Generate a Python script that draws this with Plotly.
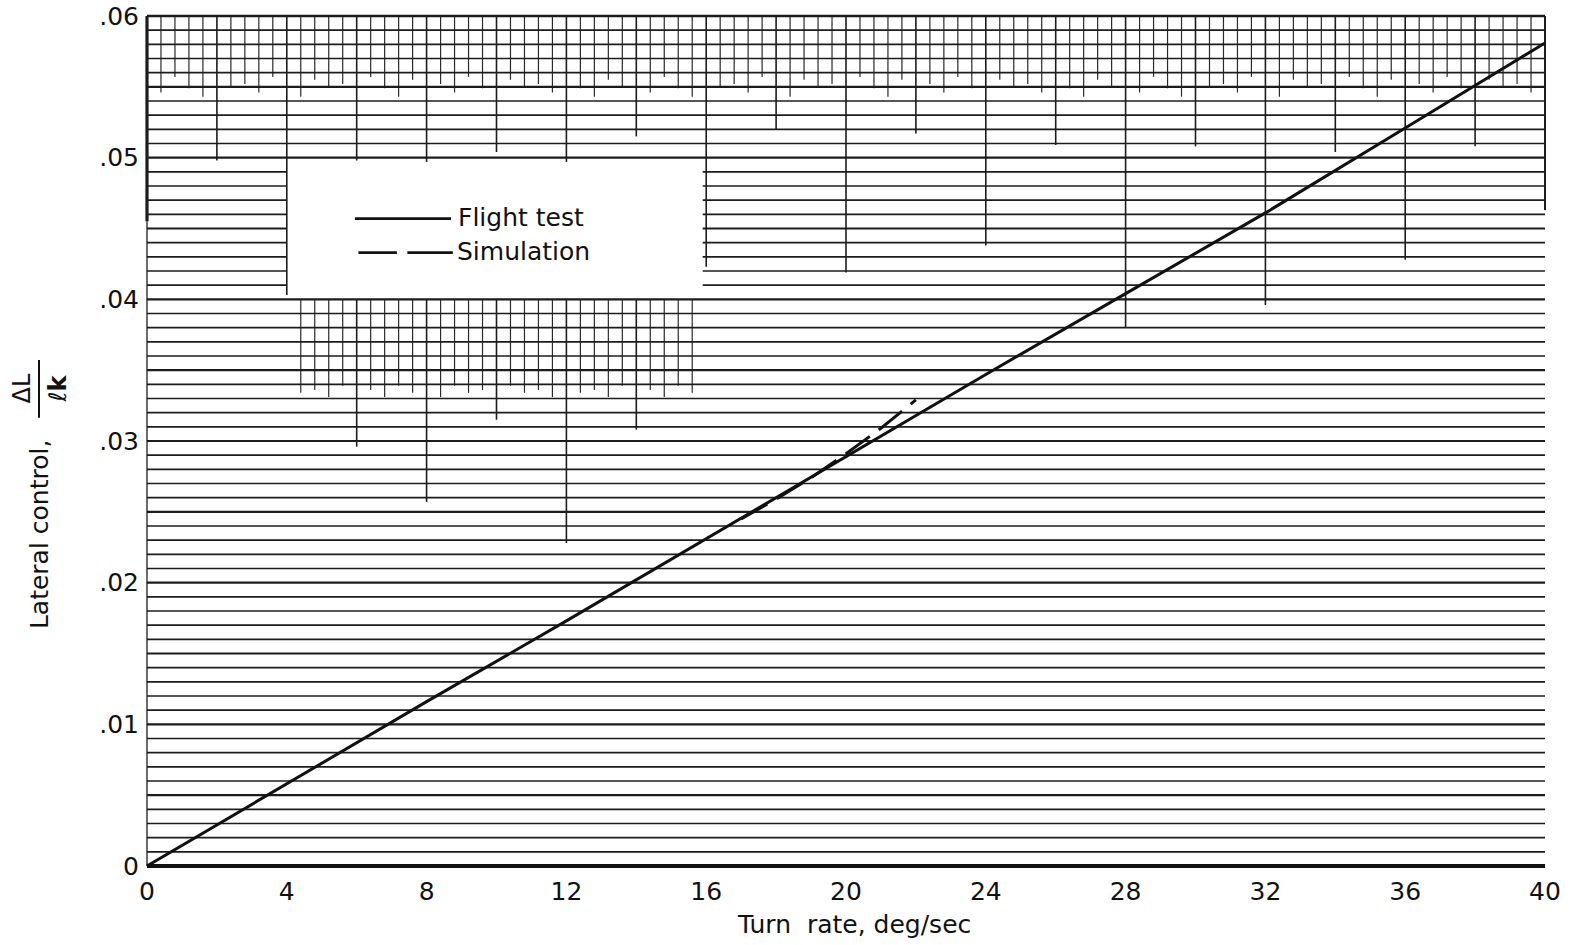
import plotly.graph_objects as go

# ---- data -------------------------------------------------------------
turn_rate_flight = [0, 4, 8, 12, 16, 20, 24, 28, 32, 36, 40]
lateral_flight = [0, 0.0058, 0.0116, 0.0173, 0.0231, 0.0289, 0.0347, 0.0404, 0.0461, 0.0521, 0.0581]

turn_rate_sim = [17, 18, 19, 20, 21, 22]
lateral_sim = [0.0245, 0.0259, 0.0274, 0.0291, 0.0309, 0.0329]

x_tick_vals = [0, 4, 8, 12, 16, 20, 24, 28, 32, 36, 40]
x_tick_text = ["0", "4", "8", "12", "16", "20", "24", "28", "32", "36", "40"]
y_tick_vals = [0, 0.01, 0.02, 0.03, 0.04, 0.05, 0.06]
y_tick_text = ["0", ".01", ".02", ".03", ".04", ".05", ".06"]

FONT = "DejaVu Sans"
INK = "#111111"
GRID = "#1c1c1c"


def segments(segs, width, color=GRID):
    xs, ys = [], []
    for xa, ya, xb, yb in segs:
        xs += [xa, xb, None]
        ys += [ya, yb, None]
    return go.Scatter(x=xs, y=ys, mode="lines", line=dict(color=color, width=width),
                      hoverinfo="skip", showlegend=False)


# ---- graph-paper background ------------------------------------------
h_minor, h_major = [], []
for k in range(1, 60):
    y = k / 1000
    if 41 <= k <= 49:          # blank panel holding the key
        segs = [(0, y, 4, y), (15.9, y, 40, y)]
    else:
        segs = [(0, y, 40, y)]
    (h_major if k % 5 == 0 else h_minor).extend(segs)

# fine verticals along the top band, ragged lower ends
ragged = [0.0552, 0.0546, 0.0557, 0.0549, 0.0543, 0.0555, 0.0550]
v_minor = []
for i in range(1, 100):
    if i % 5 == 0:
        continue
    v_minor.append((0.4 * i, 0.06, 0.4 * i, ragged[i % len(ragged)]))

# every-2-deg verticals and how far down they reach
v_major_ends = {2: 0.0498, 4: 0.0403, 6: 0.0498, 8: 0.0497, 10: 0.0504, 12: 0.0497,
                14: 0.0515, 16: 0.0423, 18: 0.0520, 20: 0.0419, 22: 0.0517, 24: 0.0438,
                26: 0.0509, 28: 0.0380, 30: 0.0508, 32: 0.0396, 34: 0.0504, 36: 0.0428,
                38: 0.0508}
v_major = [(x, 0.06, x, yb) for x, yb in v_major_ends.items()]

# patch of verticals under the key
under_key = [0.0336, 0.0331, 0.0339, 0.0334]
for i in range(11, 40):
    if i % 5 == 0:
        continue
    v_minor.append((0.4 * i, 0.040, 0.4 * i, under_key[i % len(under_key)]))
under_key_major = {6: 0.0296, 8: 0.0257, 10: 0.0315, 12: 0.0228, 14: 0.0308}
v_major += [(x, 0.040, x, yb) for x, yb in under_key_major.items()]

frame = [(0, 0.06, 40, 0.06)]
left_edge_thin = [(0, 0.0455, 0, 0.0)]
left_edge_thick = [(0, 0.06, 0, 0.0455)]
right_edge = [(40, 0.06, 40, 0.0463)]
x_axis = [(0, 0, 40, 0)]

fig = go.Figure()
fig.add_trace(segments(v_minor, 1.2, "#2a2a2a"))
fig.add_trace(segments(v_major, 1.6))
fig.add_trace(segments(h_minor, 1.6))
fig.add_trace(segments(h_major, 2.2))
fig.add_trace(segments(frame, 2.6))
fig.add_trace(segments(left_edge_thin, 1.3))
fig.add_trace(segments(left_edge_thick, 3.2))
fig.add_trace(segments(right_edge, 2.0))
fig.add_trace(segments(x_axis, 4.0, INK))

# ---- curves -----------------------------------------------------------
fig.add_trace(go.Scatter(x=turn_rate_flight, y=lateral_flight, mode="lines", name="Flight test",
                         line=dict(color=INK, width=3), showlegend=False))
fig.add_trace(go.Scatter(x=turn_rate_sim, y=lateral_sim, mode="lines", name="Simulation",
                         line=dict(color=INK, width=3, dash="30px,11px"), showlegend=False))

# ---- key --------------------------------------------------------------
shapes = [
    dict(type="line", xref="x", yref="y", x0=5.95, x1=8.7, y0=0.0457, y1=0.0457,
         line=dict(color=INK, width=2.6)),
    dict(type="line", xref="x", yref="y", x0=6.05, x1=7.15, y0=0.0433, y1=0.0433,
         line=dict(color=INK, width=2.6)),
    dict(type="line", xref="x", yref="y", x0=7.45, x1=8.75, y0=0.0433, y1=0.0433,
         line=dict(color=INK, width=2.6)),
    # fraction bar of the y-axis label
    dict(type="line", xref="paper", yref="paper", xsizemode="pixel", xanchor=0,
         x0=-101, x1=-101, y0=0.527, y1=0.594, line=dict(color=INK, width=2)),
]

annotations = [
    dict(text="Flight test", x=8.85, y=0.0458, xref="x", yref="y", xanchor="left",
         yanchor="middle", showarrow=False, font=dict(family=FONT, size=25, color=INK)),
    dict(text="Simulation", x=8.8, y=0.0434, xref="x", yref="y", xanchor="left",
         yanchor="middle", showarrow=False, font=dict(family=FONT, size=25, color=INK)),
    dict(text="Turn  rate, deg/sec", x=0.506, y=0, xref="paper", yref="paper",
         xanchor="center", yanchor="middle", yshift=-52, showarrow=False,
         font=dict(family=FONT, size=25, color=INK)),
    dict(text="Lateral control,", x=0, y=0.392, xref="paper", yref="paper",
         xanchor="center", yanchor="middle", xshift=-101, textangle=-90, showarrow=False,
         font=dict(family=FONT, size=25, color=INK)),
    dict(text="ΔL", x=0, y=0.561, xref="paper", yref="paper",
         xanchor="center", yanchor="middle", xshift=-118, textangle=-90, showarrow=False,
         font=dict(family=FONT, size=24, color=INK)),
    dict(text="ℓ<b>k</b>", x=0, y=0.561, xref="paper", yref="paper",
         xanchor="center", yanchor="middle", xshift=-82, textangle=-90, showarrow=False,
         font=dict(family=FONT, size=24, color=INK)),
]

fig.update_layout(
    width=1585, height=945,
    margin=dict(l=140, r=33, t=10, b=73, autoexpand=False),
    paper_bgcolor="white", plot_bgcolor="white",
    shapes=shapes, annotations=annotations,
    showlegend=False,
)
fig.update_xaxes(range=[-0.2, 40.2], showgrid=False, zeroline=False, showline=False,
                 tickvals=x_tick_vals, ticktext=x_tick_text, ticks="",
                 tickfont=dict(family=FONT, size=25, color=INK), ticklabelstandoff=2,
                 ticklabeloverflow="allow", automargin=False)
fig.update_yaxes(range=[-0.000424, 0.060424], showgrid=False, zeroline=False, showline=False,
                 tickvals=y_tick_vals, ticktext=y_tick_text, ticks="",
                 tickfont=dict(family=FONT, size=25, color=INK), ticklabelstandoff=0,
                 ticklabeloverflow="allow", automargin=False)

fig.write_html("out.html")
